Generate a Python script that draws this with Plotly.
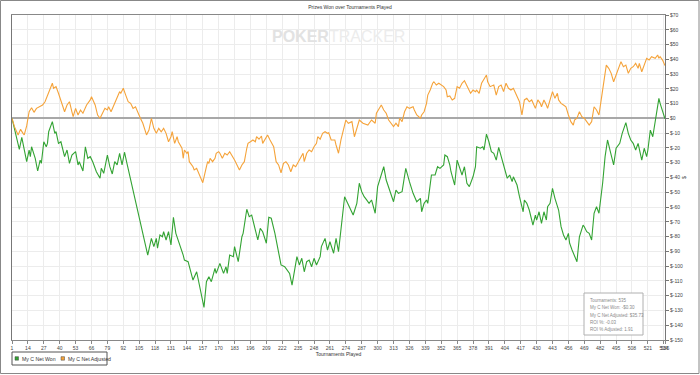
import plotly.graph_objects as go

# ---------------- data ----------------
won_t = [1,7,9,13,15,16,17,20,22,24,25,27,29,30,31,34,36,37,39,41,44,46,48,50,53,55,56,59,61,63,65,67,70,73,74,76,79,81,83,85,87,89,91,93,95,
         112,115,117,119,120,122,124,125,127,129,131,133,135,141,142,145,149,152,158,160,162,164,167,168,171,174,176,177,179,182,183,185,186,189,190,
         193,195,197,198,202,204,206,209,211,213,216,221,224,225,228,230,232,234,236,238,240,242,244,246,248,250,253,254,257,259,261,264,266,268,
         273,275,277,280,283,285,287,289,291,293,295,298,300,305,307,310,313,315,317,320,323,326,329,332,335,336,338,340,341,344,347,349,351,
         354,355,357,359,360,363,365,367,369,371,373,375,378,380,381,384,386,387,389,391,393,395,397,399,401,404,406,408,410,411,414,416,419,420,
         422,424,427,429,430,432,434,436,438,439,441,443,445,448,450,452,454,456,457,459,463,465,468,469,471,473,475,477,479,481,484,486,488,490,
         493,495,498,500,503,505,507,509,511,513,516,518,520,521,523,525,528,530,531,535]
won_v = [0,-20.9,-12.8,-29.3,-21.4,-25.9,-19.2,-27,-35.6,-28.2,-30.4,-15.8,-19.2,-16.9,-9,-2.2,-10.1,-9,-16.9,-15.8,-25.9,-21.4,-30.4,-24.8,-22.5,-31.5,-29.3,-35.6,-19.2,-27,-25.9,-29.3,-36.1,-40.5,-33.8,-37.2,-24.8,-32.7,-37.6,-29.3,-31.5,-23.6,-31.5,-22.9,-30.4,
         -92.5,-81.2,-86.8,-81.2,-87.9,-78.9,-80.1,-76.7,-82.3,-76.7,-85.7,-66.9,-77.8,-92.5,-95.9,-97,-109.4,-103.8,-127.9,-110.5,-107.2,-110.5,-101.5,-104.9,-98.1,-104.9,-100.4,-104.9,-92.5,-93.6,-86.8,-93.6,-97,-80.1,-77.8,
         -61.5,-66.5,-65.4,-68.8,-82.3,-74.4,-76.7,-84.5,-66.9,-67.6,-77.8,-99.2,-100.4,-101.5,-104.9,-112.8,-102.6,-93.6,-99.2,-94.7,-103.8,-97,-95.9,-100.4,-94.7,-99.2,-93.6,-86.8,-81.2,-89.1,-83.5,-91.3,-81.2,-90.2,
         -53,-56.4,-59.8,-65.4,-57.5,-43.9,-49.6,-53,-55.2,-57.5,-55.2,-64.2,-46.2,-32.7,-41.7,-48.5,-56.4,-48.5,-50.7,-49.6,-33.8,-42.8,-50.7,-56.4,-54.1,-63.2,-57.5,-55.2,-57.5,-38.3,-38.3,-32.7,-33.8,
         -31.5,-24.8,-25.9,-31.5,-36.1,-45.1,-28.2,-33.8,-38.3,-32.7,-43.9,-46.2,-39.5,-32.7,-19.2,-20.2,-19.2,-21.4,-10.6,-15.8,-22.5,-23.6,-28.2,-19.6,-25.9,-34.9,-40.5,-38.3,-42.8,-39.5,-45.1,-53,-63.2,-55.2,
         -57.5,-62,-72.2,-65.4,-68.8,-63.2,-71,-63.2,-68.8,-59.8,-57.5,-47.3,-54.1,-62,-73.3,-78.9,-82.3,-77.8,-84.5,-89.1,-97,-80.1,-72.2,-73.3,-76.7,-77.8,-82.3,-64.2,-59.8,-64.2,-43.9,-25.9,-14.6,-21.4,
         -31.5,-20.2,-16.9,-10.1,-2.9,-10.1,-14.6,-16.9,-21.4,-16.9,-28.2,-20.2,-25.9,-21.4,-7.9,-12.4,4.5,13.6,10.2,-0.30]

adj_t = [1,3,6,8,10,11,13,14,15,17,19,21,24,26,28,30,32,34,35,37,39,41,43,44,46,48,50,51,53,55,57,59,62,65,66,67,69,71,73,75,77,79,80,82,85,87,89,90,92,94,96,98,100,102,104,106,
         108,111,113,115,117,119,121,123,125,127,129,131,132,134,136,137,140,141,142,144,145,146,149,150,152,155,156,157,160,161,162,163,165,167,168,170,171,173,175,177,179,181,183,185,187,189,191,
         193,194,196,198,200,201,203,205,206,208,210,212,215,217,219,221,223,225,227,229,231,233,235,237,239,240,242,244,246,248,250,251,253,255,257,259,260,262,265,266,268,270,272,274,276,279,281,283,285,
         288,292,295,298,299,302,303,305,307,309,311,313,315,317,318,320,322,324,326,329,330,332,335,336,338,340,341,343,345,346,348,350,354,356,357,359,361,363,365,367,369,371,372,374,376,378,380,381,383,
         385,387,389,390,392,395,397,399,401,403,405,407,409,411,413,415,416,418,419,420,422,424,426,428,429,431,433,434,436,438,439,441,443,445,447,448,450,452,454,456,458,460,461,463,465,467,469,471,473,475,
         477,479,481,483,485,487,489,491,493,495,497,499,501,503,505,507,509,511,513,514,516,518,520,522,524,527,529,530,531,533,535]
adj_v = [0,-5.6,-11.2,-7.4,-10.1,-11.2,-5.1,0,4.5,7.2,4.1,6.8,7.9,9.1,11.3,15.8,20.4,23.8,20.4,21.5,17,11.3,6.8,4.5,9.1,11.3,4.5,1.2,6.8,2.3,5.7,3.5,9.1,12.5,14.7,12.5,9.1,2.3,0.1,3.5,6.8,5.7,7.9,4.5,10.2,13.6,18.1,17,20.4,15.8,11.3,10.2,6.8,7.9,3.5,0.1,
         -3.3,-11.2,-7.9,0.1,-6.7,-10.1,-6.7,-9,-6.7,-10.1,-15.8,-12.4,-9,-16.9,-12.4,-15.8,-20.2,-27,-21.4,-23.6,-22.5,-29.3,-32.7,-34.9,-33.8,-40.5,-41.7,-43.5,-32.7,-29.3,-30.4,-27,-29.3,-27,-23.6,-22.5,-23.6,-27,-23.6,-24.8,-22.5,-25.9,-28.2,-31.5,-34.9,-31.5,-29.3,
         -20.2,-16.9,-15.8,-14.6,-15.8,-12.4,-14.1,-11.9,-16.9,-13.5,-11.2,-14.6,-19.2,-29.3,-31.5,-36.8,-30.4,-29.3,-31.5,-36.1,-31.5,-32.7,-29.3,-25.9,-23.6,-29.3,-23.6,-21.4,-22.5,-19.2,-16.9,-12.4,-14.1,-10.1,-9,-10.1,-9.7,-14.6,-14.6,-18,-23.6,-14.6,-6.7,-1.1,-3.3,-2.2,-12.4,-6.7,-1.1,
         -3.3,-4.5,-1.1,-3.3,3.5,7.9,9.1,5.7,3.5,-1.1,-3.3,-5.6,-3.3,-5.6,0.1,-2.2,4.5,7.9,6.8,7.9,5.7,2.3,0.1,2.3,4.5,10.2,15.8,19.2,23.8,24.8,22.6,23.8,21.5,19.2,14.7,15.2,12.5,13.6,21.5,20.4,23.8,25.5,23.8,20.4,17,19.2,18.1,19.2,17,
         23.8,27.1,29.4,24.8,21.5,22.6,15.8,21.5,22.6,18.1,23.8,20.4,19.2,20.4,17,13.6,11.3,2.3,7.9,12.5,13.6,11.3,12.5,9.1,6.8,12.5,10.2,7.9,12.5,9.1,6.8,12.5,18.1,13.6,17,12.5,10.2,9.1,7.9,2.3,-2.2,-4.5,-1.1,0.1,4.5,1.2,0.1,-2.2,-4.5,-2.2,
         7.9,5.7,2.3,13.6,24.8,36.1,33.9,30.5,24.8,29.4,32.8,38.4,35,36.1,30.5,33.9,35,37.3,33.9,37.3,31.6,36.1,40.7,39.5,41.8,40.7,42.9,40.7,41.8,39.5,35.73]

assert len(won_t) == len(won_v) and len(adj_t) == len(adj_v)

x_ticks = list(range(1, 535, 13)) + [535]
y_ticks = list(range(-150, 71, 10))
y_labels = ["$" + str(v) for v in y_ticks]

series_names = ["My C Net Won", "My C Net Adjusted"]
series_colors = ["#33a333", "#f5a33a"]

info_lines = ["Tournaments: 535", "My C Net Won: -$0.30", "My C Net Adjusted: $35.73",
              "ROI %: -0.03", "ROI % Adjusted: 1.91"]

FONT = "Liberation Sans, Arial, sans-serif"
W, H = 700, 375
ML, MR, MT, MB = 12, 35, 15, 35
PW, PH = W - ML - MR, H - MT - MB


def px(X):  # page pixel x -> paper
    return (X - ML) / PW


def py(Y):  # page pixel y -> paper
    return (H - MB - Y) / PH


fig = go.Figure()
for t, v, nm, col in [(won_t, won_v, series_names[0], series_colors[0]),
                      (adj_t, adj_v, series_names[1], series_colors[1])]:
    fig.add_trace(go.Scatter(x=t, y=v, mode="lines", name=nm,
                             line=dict(color=col, width=1.1), showlegend=False))

fig.update_layout(
    width=W, height=H,
    margin=dict(l=ML, r=MR, t=MT, b=MB),
    paper_bgcolor="white", plot_bgcolor="white",
    font=dict(family=FONT, size=5, color="#444"),
    title=dict(text="Prizes Won over Tournaments Played", x=0.5, xanchor="center",
               y=1 - 7.5 / H, yanchor="middle", font=dict(size=5, color="#333")),
    showlegend=False,
    xaxis=dict(range=[1, 535], tickmode="array", tickvals=x_ticks,
               ticktext=[str(v) for v in x_ticks],
               showgrid=True, gridcolor="#ececec", gridwidth=1,
               showline=True, linecolor="#888", linewidth=1, mirror=True,
               ticks="outside", ticklen=3, tickcolor="#888", tickangle=0,
               zeroline=False, automargin=False,
               title=dict(text="Tournaments Played", font=dict(size=5, color="#333"), standoff=1)),
    yaxis=dict(range=[-150, 70], side="right", tickmode="array", tickvals=y_ticks,
               ticktext=y_labels, automargin=False,
               showgrid=True, gridcolor="#ececec", gridwidth=1,
               showline=True, linecolor="#777", linewidth=1, mirror=True,
               ticks="outside", ticklen=3, tickcolor="#777",
               zeroline=True, zerolinecolor="#a8a8a8", zerolinewidth=1.5),
)

# y-axis title "$" (rotated)
fig.add_annotation(xref="paper", yref="paper", x=px(689), y=py(178), text="$", showarrow=False,
                   textangle=-90, font=dict(size=5, color="#333"))

# watermark
fig.add_annotation(xref="paper", yref="paper", x=px(339), y=py(36), xanchor="center", yanchor="middle",
                   text="<b><span style='color:#e2e2e2'>POKER</span></b>TRACKER", showarrow=False,
                   font=dict(family="Liberation Sans Narrow, Liberation Sans, Arial", size=16, color="#ececec"))

# info box
fig.add_shape(type="rect", xref="paper", yref="paper", x0=px(584), x1=px(643), y0=py(335), y1=py(293),
              line=dict(color="#b0b0b0", width=1), fillcolor="white", layer="above")
for i, line in enumerate(info_lines):
    fig.add_annotation(xref="paper", yref="paper", x=px(587.5), y=py(300.5 + 7.3 * i),
                       xanchor="left", yanchor="middle", text=line, showarrow=False,
                       font=dict(size=4.5, color="#8a8a8a"))

# legend (drawn below the plot)
fig.add_shape(type="rect", xref="paper", yref="paper", x0=px(12), x1=px(107), y0=py(365), y1=py(352),
              line=dict(color="#555", width=1), fillcolor="white")
leg = [(15, 19.5), (61, 65.5)]
for (sx, tx), nm, col in zip(leg, series_names, series_colors):
    fig.add_shape(type="rect", xref="paper", yref="paper", x0=px(sx), x1=px(sx + 3.5),
                  y0=py(360.2), y1=py(356.7), line=dict(color="#444", width=0.5), fillcolor=col)
    fig.add_annotation(xref="paper", yref="paper", x=px(tx), y=py(358.5), xanchor="left", yanchor="middle",
                       text=nm, showarrow=False, font=dict(size=5.2, color="#333"))

# outer frame
fig.add_shape(type="rect", xref="paper", yref="paper",
              x0=px(0.5), x1=px(699), y0=py(373.5), y1=py(0.5),
              line=dict(color="#888", width=1), fillcolor="rgba(0,0,0,0)", layer="below")

fig.write_html("out.html", config={"displayModeBar": False},
               post_script="document.body.style.margin='0';")
